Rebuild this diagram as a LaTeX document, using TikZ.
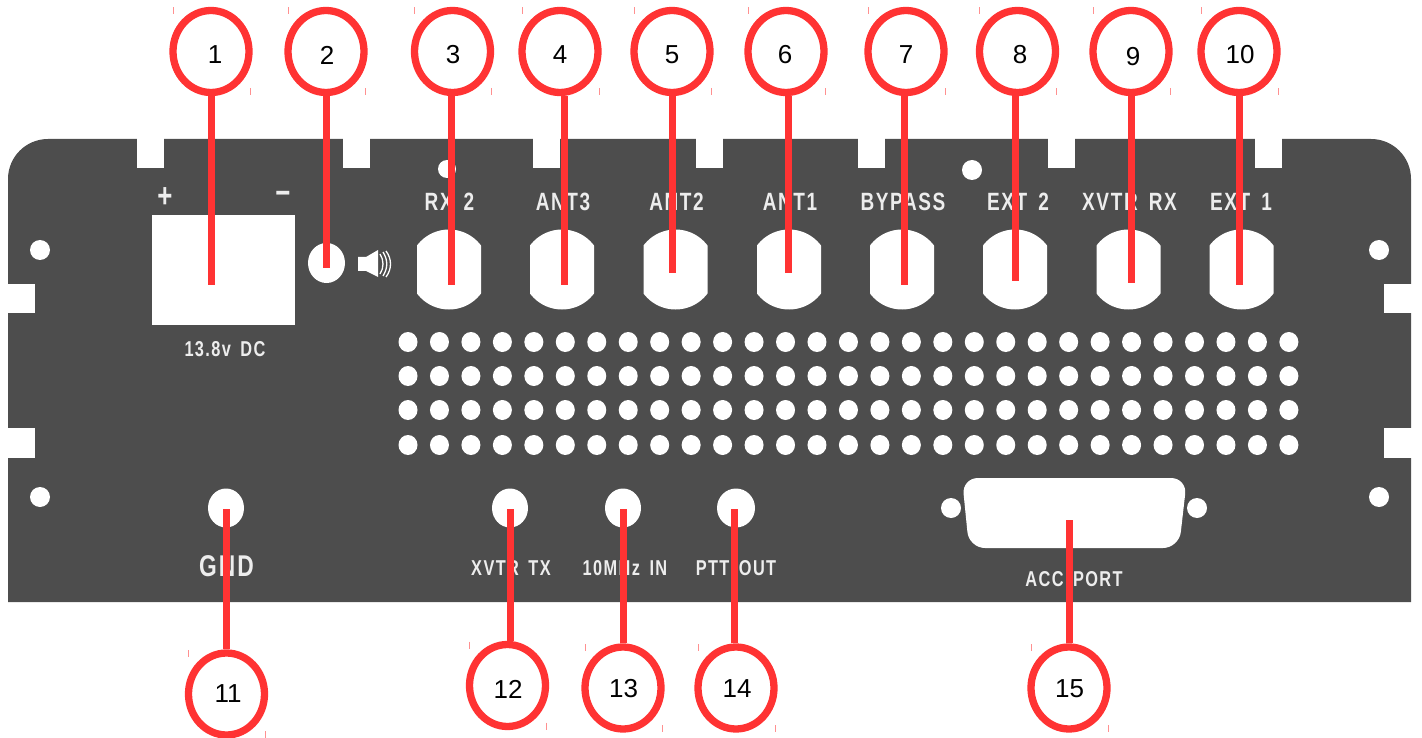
\documentclass[tikz,border=0pt]{standalone}
\usepackage{fontspec}
\setmainfont{Liberation Sans}
\newfontfamily\panelfont[FakeStretch=0.76,LetterSpace=6.5,WordSpace=1.6]{Liberation Sans}
\usepackage{xcolor}
\usepackage{tikz}
\usetikzlibrary{shapes.geometric,calc}
\definecolor{panelgrey}{HTML}{4D4D4D}
\definecolor{calloutred}{HTML}{FF3333}
\definecolor{tickpink}{HTML}{FF9090}
\tikzset{
  hole/.style={fill=white,draw=none},
  panellabel/.style={text=white!93!black,inner sep=0pt,font=\panelfont\bfseries\fontsize{25}{28}\selectfont},
  smalllabel/.style={panellabel,font=\panelfont\bfseries\fontsize{21.5}{24}\selectfont},
  callout/.style={ellipse,draw=calloutred,line width=7.3pt,fill=white,minimum width=76pt,minimum height=82pt,inner sep=0pt},
  calloutnum/.style={text=black,inner sep=0pt,font=\fontsize{26}{30}\selectfont},
  leader/.style={draw=calloutred,line width=7pt},
  tickmark/.style={draw=tickpink,line width=1pt}
}
\begin{document}
\begin{tikzpicture}[x=1pt,y=-1pt]
\useasboundingbox (0,0) rectangle (1422,738);
% the panel with its notches
\fill[panelgrey] (8,602) {[rounded corners=40pt] -- (8,139) -- (1411,139)} -- (1411,602) -- cycle;
\foreach \x in {137,343,533,696,858,1048,1255}
  \fill[hole] (\x,137) rectangle (\x+27,168);
\foreach \y/\h in {284/29,428/30} {
  \fill[hole] (6,\y) rectangle (35,\y+\h);
  \fill[hole] (1384,\y) rectangle (1413,\y+\h);
}
% small holes
\foreach \x/\y/\r in {40/250/10,40/497/10,1379/250/10,1379/497/10,447/169/9,972/170/10,951/508/10,1197/508/10}
  \fill[hole] (\x,\y) circle [radius=\r pt];
% power block and speaker jack
\fill[hole] (152,215) rectangle (295,325);
\fill[hole] (326.5,263) ellipse [x radius=18.5pt,y radius=20pt];
\fill[hole] (358,257) -- (366,257) -- (378,250) -- (378,277) -- (366,271) -- (358,271) -- cycle;
\draw[white,line width=1.3pt] (380,254) .. controls (384,260) and (384,268) .. (380,274);
\draw[white,line width=1.3pt] (383,252) .. controls (388,260) and (388,268) .. (383,276);
\draw[white,line width=1.3pt] (386,251) .. controls (392,259) and (392,269) .. (386,277);
% antenna sockets
\foreach \x in {449,562,675.5,789,902,1015,1128.5,1241.5} {
  \begin{scope}
    \clip (\x-32,225) rectangle (\x+32,315);
    \fill[hole] (\x,269.5) circle [radius=40pt];
  \end{scope}
}
% vent grid
\foreach \i in {0,...,28}
  \foreach \y in {342,376,410,445}
    \fill[hole] (408+\i*31.46,\y) ellipse [x radius=9.5pt,y radius=10pt];
% lower jacks
\foreach \x/\r in {226/18,510/18,623/18,736/19}
  \fill[hole] (\x,508) ellipse [x radius=\r pt,y radius=19.5pt];
% accessory port
\fill[hole,rounded corners=16pt] (1075,478) -- (1187,478) -- (1179,548) -- (969,548) -- (962,478) -- cycle;
% panel lettering
\node[panellabel,font=\panelfont\bfseries\fontsize{34}{36}\selectfont] (lplus) at (165,198) {+};
\node[panellabel,font=\panelfont\bfseries\fontsize{34}{36}\selectfont] (lminus) at (283,198) {−};
\node[smalllabel] (ldc) at (225,349) {13.8v DC};
\node[panellabel] (lrx) at (449.5,202) {RX 2};
\node[panellabel] (lant3) at (563,202) {ANT3};
\node[panellabel] (lant2) at (676.5,202) {ANT2};
\node[panellabel] (lant1) at (790,202) {ANT1};
\node[panellabel] (lbyp) at (903,202) {BYPASS};
\node[panellabel] (lext2) at (1018,202) {EXT 2};
\node[panellabel] (lxrx) at (1129.5,202) {XVTR RX};
\node[panellabel] (lext1) at (1241,202) {EXT 1};
\node[panellabel,font=\panelfont\bfseries\fontsize{30}{32}\selectfont] (lgnd) at (226.5,566) {GND};
\node[smalllabel] (lxtx) at (511,568) {XVTR TX};
\node[smalllabel] (lmhz) at (625,568) {10MHz IN};
\node[smalllabel] (lptt) at (736,568) {PTT OUT};
\node[smalllabel] (lacc) at (1074,579) {ACC PORT};
% upper callouts
\foreach \n/\cx/\cy/\tx/\ty/\px/\py in {1/211/51.5/215/55/211/285,2/326/51.5/327/55/326/268,
  3/452.5/51.5/453/55/451/285,4/560/51.5/560/55/564/285,5/672/51.5/672/55/672/273,
  6/786/51.5/785/55/788/273,7/906/51.5/906/55/904/285,8/1017.5/51.5/1020/55/1015/281,
  9/1131/51.5/1133/57/1131/283,10/1239/51.5/1240/55/1239.5/285} {
  \node[callout] (c\n) at (\cx,\cy) {};
  \node[calloutnum] (t\n) at (\tx,\ty) {\n};
  \coordinate (p\n) at (\px,\py);
  \draw[leader] (c\n.south -| p\n) -- (p\n);
  \draw[tickmark] (\cx-38,\cy-44) -- (\cx-38,\cy-37);
  \draw[tickmark] (\cx+39,\cy+37) -- (\cx+39,\cy+44);
}
% lower callouts
\foreach \n/\cx/\cy/\tx/\ty/\px/\py in {11/226.5/694/228/694/226/509,12/507.5/685.5/508/689/510/509,
  13/623/688/623.5/689/623.5/509,14/736/688/737/689/734/509,15/1069/688/1069.5/689/1069/520} {
  \node[callout] (c\n) at (\cx,\cy) {};
  \node[calloutnum] (t\n) at (\tx,\ty) {\n};
  \coordinate (p\n) at (\px,\py);
  \draw[leader] (c\n.north -| p\n) -- (p\n);
  \draw[tickmark] (\cx-38,\cy-44) -- (\cx-38,\cy-37);
  \draw[tickmark] (\cx+39,\cy+37) -- (\cx+39,\cy+44);
}
\end{tikzpicture}
\end{document}
